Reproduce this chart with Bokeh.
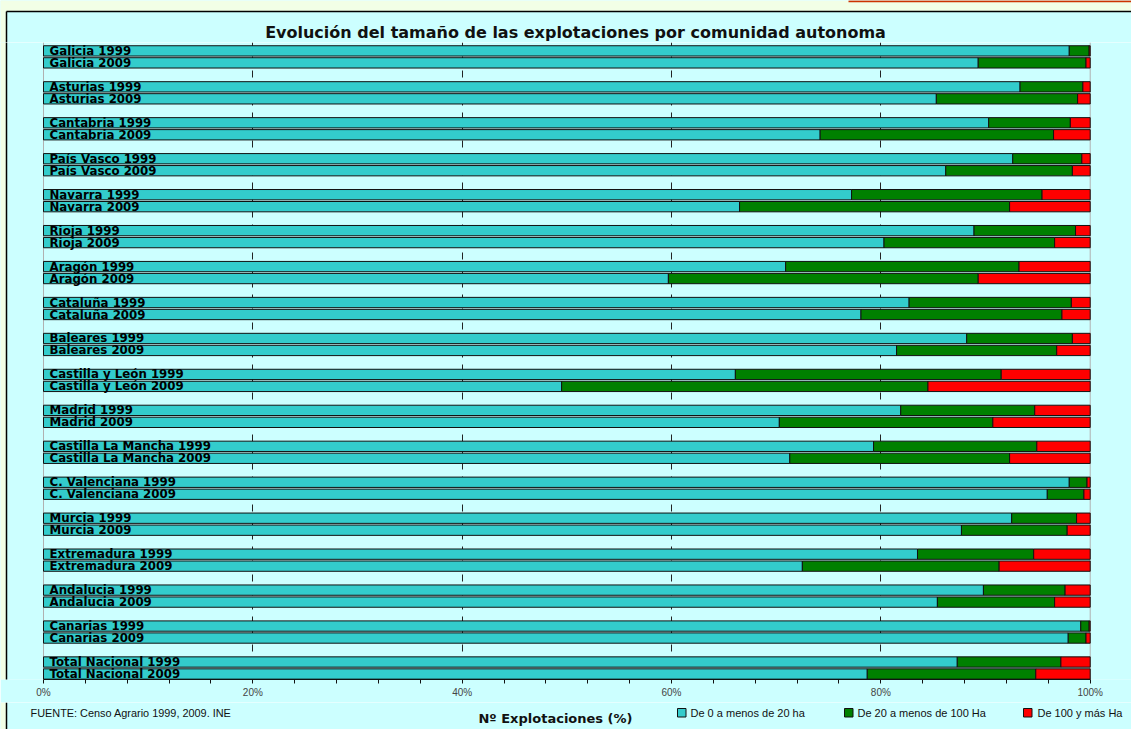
from bokeh.plotting import figure
from bokeh.layouts import column
from bokeh.models import (Range1d, FixedTicker, PrintfTickFormatter, Span, ColumnDataSource)
from bokeh.core.properties import value
from bokeh.embed import file_html
from bokeh.resources import INLINE

# ---------------- data ----------------
regiones = ["Galicia", "Asturias", "Cantabria", "País Vasco", "Navarra", "Rioja",
            "Aragón", "Cataluña", "Baleares", "Castilla y León", "Madrid",
            "Castilla La Mancha", "C. Valenciana", "Murcia", "Extremadura",
            "Andalucia", "Canarias", "Total Nacional"]
anios = ["1999", "2009"]

# % explotaciones de 0 a menos de 20 ha
pequenas_1999 = [98.0, 93.3, 90.3, 92.6, 77.2, 88.9, 70.9, 82.7, 88.2, 66.1, 81.9, 79.3, 98.0, 92.5, 83.5, 89.8, 99.1, 87.3]
pequenas_2009 = [89.3, 85.3, 74.2, 86.2, 66.5, 80.3, 59.7, 78.1, 81.5, 49.5, 70.3, 71.3, 95.9, 87.7, 72.5, 85.4, 97.9, 78.7]
# % explotaciones de 20 a menos de 100 Ha
medianas_1999 = [1.9, 6.0, 7.8, 6.6, 18.2, 9.7, 22.3, 15.5, 10.1, 25.4, 12.8, 15.6, 1.7, 6.2, 11.1, 7.8, 0.8, 9.9]
medianas_2009 = [10.3, 13.5, 22.3, 12.1, 25.8, 16.3, 29.6, 19.2, 15.3, 35.0, 20.4, 21.0, 3.5, 10.1, 18.8, 11.2, 1.7, 16.1]
# % explotaciones de 100 y más Ha
grandes_1999 = [0.1, 0.7, 1.9, 0.8, 4.6, 1.4, 6.8, 1.8, 1.7, 8.5, 5.3, 5.1, 0.3, 1.3, 5.4, 2.4, 0.1, 2.8]
grandes_2009 = [0.4, 1.2, 3.5, 1.7, 7.7, 3.4, 10.7, 2.7, 3.2, 15.5, 9.3, 7.7, 0.6, 2.2, 8.7, 3.4, 0.4, 5.2]

series_labels = ["De 0 a menos de 20 ha", "De 20 a menos de 100 Ha", "De 100 y más Ha"]
series_colors = ["#33cccc", "#008000", "#ff0000"]
x_ticks = [0, 20, 40, 60, 80, 100]

title_text = "Evolución del tamaño de las explotaciones por comunidad autonoma"
axis_title = "Nº Explotaciones (%)"
source_text = "FUENTE: Censo Agrario 1999, 2009. INE"

# ---------------- layout constants (pixels) ----------------
W = 1131
PX0, PX100 = 43.0, 1089.7          # pixel position of 0% and 100%
SC = (PX100 - PX0) / 100.0
def px2x(px):
    return (px - PX0) / SC

TOP_H, MAIN_FRAME_H, MAIN_BOTTOM, BOT_H = 42, 637, 23, 27
BG = "#ccffff"
OUTER = "#f2ffe6"
XR = Range1d(px2x(0), px2x(W))

# ---------------- build table ----------------
ys, names, s1, s2, s3 = [], [], [], [], []
per_year = {"1999": (pequenas_1999, medianas_1999, grandes_1999),
            "2009": (pequenas_2009, medianas_2009, grandes_2009)}
for i, reg in enumerate(regiones):
    for j, yr in enumerate(anios):
        a, b, c = per_year[yr]
        ys.append(3 * i + j)
        names.append(f"{reg} {yr}")
        s1.append(a[i]); s2.append(b[i]); s3.append(c[i])

r1 = s1
r2 = [p + q for p, q in zip(s1, s2)]
r3 = [p + q + r for p, q, r in zip(s1, s2, s3)]
src = ColumnDataSource(dict(y=ys, name=names, l1=[0.0] * len(ys), r1=r1, l2=r1, r2=r2,
                            l3=r2, r3=r3, lx=[0.0] * len(ys)))

def strip_fig(h, y0, y1):
    f = figure(width=W, height=h, output_backend="svg", toolbar_location=None,
               x_range=XR, y_range=Range1d(y1, y0), x_axis_location=None,
               y_axis_location=None, min_border=0)
    f.background_fill_color = BG
    f.border_fill_color = BG
    f.outline_line_color = None
    f.grid.visible = False
    return f

# ---------------- top strip (title) ----------------
top = strip_fig(TOP_H, 0, TOP_H)
top.quad(left=px2x(0), right=px2x(W), top=0, bottom=11, fill_color=OUTER, line_color=None)
top.quad(left=px2x(0), right=px2x(6), top=0, bottom=TOP_H, fill_color=OUTER, line_color=None)
top.segment(x0=px2x(6), y0=11, x1=px2x(W), y1=11, line_color="#000000", line_width=1.5)
top.segment(x0=px2x(6), y0=11, x1=px2x(6), y1=TOP_H, line_color="#000000", line_width=1.5)
top.segment(x0=px2x(848), y0=0.8, x1=px2x(W), y1=0.8, line_color="#cc3300", line_width=2)
top.text(x=[px2x(575)], y=[32], text=[title_text], text_align="center", text_baseline="middle",
         text_font=value("DejaVu Sans"), text_font_style="bold", text_font_size="16px",
         text_color="#111111")

# ---------------- main chart ----------------
p = figure(width=W, height=MAIN_FRAME_H + MAIN_BOTTOM, output_backend="svg",
           toolbar_location=None, x_range=XR, y_range=Range1d(52.46, -0.7),
           min_border_left=0, min_border_right=0, min_border_top=0,
           min_border_bottom=MAIN_BOTTOM)
p.background_fill_color = BG
p.border_fill_color = BG
p.outline_line_color = None

p.ygrid.visible = False
p.xgrid.ticker = FixedTicker(ticks=[20, 40, 60, 80])
p.xgrid.grid_line_color = "#222222"
p.xgrid.grid_line_dash = "7 7"
p.xgrid.grid_line_width = 1
for edge in (0, 100):
    p.add_layout(Span(location=edge, dimension="height", line_color="#b0b0b0",
                      line_width=1, level="underlay"))

# outer page strip on the left
p.quad(left=px2x(0), right=px2x(6), top=-5, bottom=60, fill_color=OUTER, line_color=None)
p.segment(x0=px2x(6), y0=-5, x1=px2x(6), y1=60, line_color="#000000", line_width=1.5)

for (lk, rk), col in zip([("l1", "r1"), ("l2", "r2"), ("l3", "r3")], series_colors):
    p.hbar(y="y", left=lk, right=rk, height=0.86, source=src, fill_color=col,
           line_color="#111111", line_width=1)

p.text(x="lx", y="y", text="name", source=src, x_offset=6, y_offset=0,
       text_font=value("DejaVu Sans"), text_font_style="bold", text_font_size="11.8px",
       text_color="#000000", text_baseline="middle", text_align="left")

p.yaxis.visible = False
ax = p.xaxis[0]
ax.bounds = (0, 100)
ax.ticker = FixedTicker(ticks=x_ticks, minor_ticks=[v for v in range(4, 100, 4) if v % 20])
ax.formatter = PrintfTickFormatter(format="%d%%")
ax.axis_line_color = "#111111"
ax.major_tick_line_color = "#111111"
ax.minor_tick_line_color = "#111111"
ax.major_tick_out = 4
ax.major_tick_in = 0
ax.minor_tick_out = 4
ax.minor_tick_in = 0
ax.major_label_standoff = 3
ax.major_label_text_font = "Liberation Sans"
ax.major_label_text_font_size = "10px"
ax.major_label_text_color = "#444444"

# ---------------- bottom strip (source, axis title, legend) ----------------
y_top = TOP_H + MAIN_FRAME_H + MAIN_BOTTOM
bot = strip_fig(BOT_H, y_top, y_top + BOT_H)
bot.quad(left=px2x(0), right=px2x(6), top=y_top, bottom=y_top + BOT_H, fill_color=OUTER,
         line_color=None)
bot.segment(x0=px2x(6), y0=y_top, x1=px2x(6), y1=y_top + BOT_H, line_color="#000000",
            line_width=1.5)
bot.text(x=[px2x(30)], y=[712], text=[source_text], text_align="left", text_baseline="middle",
         text_font=value("Liberation Sans"), text_font_size="10.9px", text_color="#111111")
bot.text(x=[px2x(555)], y=[718], text=[axis_title], text_align="center", text_baseline="middle",
         text_font=value("DejaVu Sans"), text_font_style="bold", text_font_size="13px",
         text_color="#111111")
box_px = [677, 844, 1023]
txt_px = [690, 857, 1037]
bot.quad(left=[px2x(v) for v in box_px], right=[px2x(v + 8.5) for v in box_px],
         top=[708] * 3, bottom=[716.5] * 3, fill_color=series_colors, line_color="#111111",
         line_width=1)
bot.text(x=[px2x(v) for v in txt_px], y=[712.5] * 3, text=series_labels, text_align="left",
         text_baseline="middle", text_font=value("Liberation Sans"), text_font_size="11px",
         text_color="#111111")

layout = column(top, p, bot, spacing=0)
open("out.html", "w").write(file_html(layout, INLINE))
